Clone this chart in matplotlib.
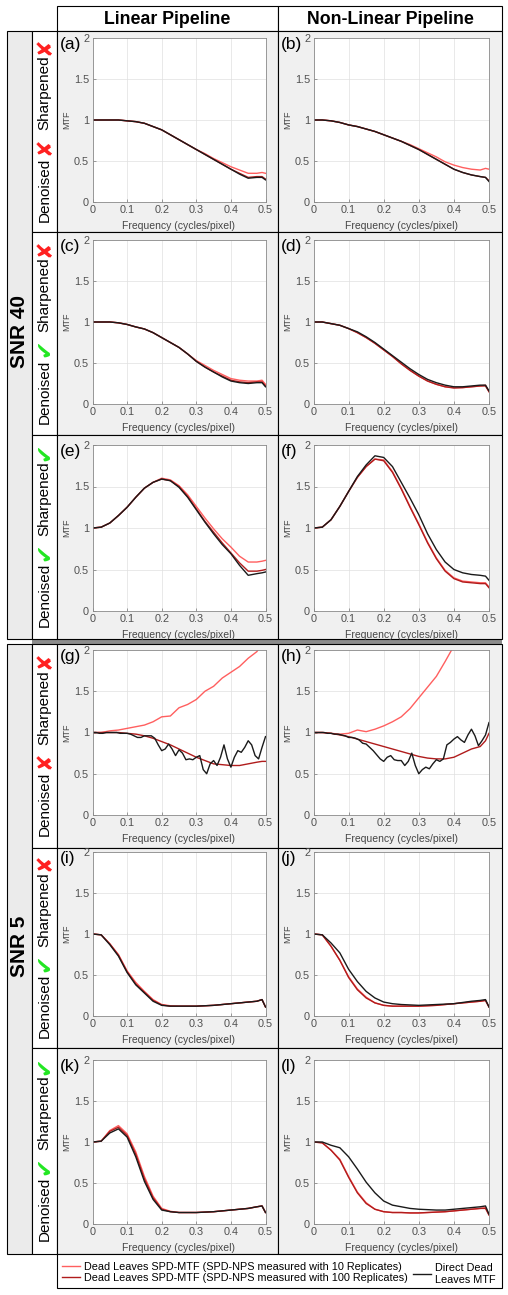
import numpy as np
import matplotlib
matplotlib.use("Agg")
import matplotlib.pyplot as plt
from matplotlib.patches import Rectangle

# frequency samples (cycles/pixel)
FREQ = [0.0, 0.025, 0.05, 0.075, 0.1, 0.125, 0.15, 0.175, 0.2, 0.225, 0.25,
        0.275, 0.3, 0.325, 0.35, 0.375, 0.4, 0.425, 0.45, 0.475, 0.49, 0.5]
FREQ_FINE = np.linspace(0, 0.5, 51)

# SNR 40
r10_a = [1.00, 1.00, 1.00, 1.00, 0.99, 0.98, 0.96, 0.92, 0.88, 0.82, 0.76, 0.70, 0.64, 0.59, 0.53, 0.48, 0.43, 0.39, 0.35, 0.35, 0.36, 0.35]
r100_a = [1.00, 1.00, 1.00, 1.00, 0.99, 0.98, 0.96, 0.92, 0.88, 0.82, 0.76, 0.70, 0.64, 0.58, 0.52, 0.46, 0.40, 0.35, 0.30, 0.31, 0.31, 0.28]
direct_a = [1.00, 1.00, 1.00, 1.00, 0.99, 0.98, 0.96, 0.92, 0.88, 0.82, 0.76, 0.70, 0.64, 0.58, 0.52, 0.46, 0.40, 0.34, 0.29, 0.30, 0.30, 0.27]

r10_b = [1.00, 1.00, 0.99, 0.97, 0.94, 0.92, 0.89, 0.86, 0.82, 0.78, 0.74, 0.70, 0.65, 0.60, 0.55, 0.49, 0.45, 0.42, 0.40, 0.39, 0.41, 0.40]
r100_b = [1.00, 1.00, 0.99, 0.97, 0.94, 0.92, 0.89, 0.86, 0.82, 0.78, 0.74, 0.69, 0.64, 0.58, 0.52, 0.46, 0.40, 0.36, 0.33, 0.31, 0.30, 0.26]
direct_b = [1.00, 1.00, 0.99, 0.97, 0.94, 0.92, 0.89, 0.86, 0.82, 0.78, 0.74, 0.69, 0.64, 0.58, 0.52, 0.46, 0.40, 0.36, 0.33, 0.31, 0.30, 0.25]

r10_c = [1.00, 1.00, 1.00, 0.99, 0.97, 0.94, 0.915, 0.87, 0.81, 0.75, 0.69, 0.61, 0.53, 0.47, 0.41, 0.36, 0.31, 0.29, 0.28, 0.28, 0.29, 0.24]
r100_c = [1.00, 1.00, 1.00, 0.99, 0.97, 0.94, 0.915, 0.87, 0.81, 0.75, 0.69, 0.61, 0.52, 0.45, 0.39, 0.34, 0.29, 0.27, 0.26, 0.27, 0.27, 0.22]
direct_c = [1.00, 1.00, 1.00, 0.99, 0.97, 0.94, 0.915, 0.87, 0.81, 0.75, 0.69, 0.61, 0.52, 0.45, 0.39, 0.33, 0.28, 0.26, 0.25, 0.26, 0.26, 0.21]

r10_d = [1.00, 1.00, 0.98, 0.96, 0.92, 0.87, 0.81, 0.74, 0.66, 0.58, 0.49, 0.41, 0.34, 0.28, 0.24, 0.21, 0.20, 0.20, 0.21, 0.22, 0.23, 0.15]
r100_d = [1.00, 1.00, 0.98, 0.96, 0.92, 0.87, 0.81, 0.74, 0.66, 0.58, 0.49, 0.41, 0.34, 0.28, 0.24, 0.21, 0.195, 0.20, 0.21, 0.22, 0.22, 0.15]
direct_d = [1.00, 1.00, 0.98, 0.96, 0.92, 0.88, 0.82, 0.75, 0.67, 0.59, 0.51, 0.43, 0.36, 0.30, 0.26, 0.23, 0.21, 0.21, 0.22, 0.23, 0.23, 0.16]

r10_e = [1.00, 1.01, 1.06, 1.15, 1.25, 1.37, 1.48, 1.55, 1.60, 1.58, 1.51, 1.40, 1.26, 1.12, 0.99, 0.87, 0.77, 0.66, 0.59, 0.59, 0.60, 0.61]
r100_e = [1.00, 1.01, 1.06, 1.15, 1.25, 1.37, 1.48, 1.55, 1.59, 1.57, 1.50, 1.38, 1.23, 1.08, 0.95, 0.82, 0.70, 0.58, 0.48, 0.48, 0.49, 0.50]
direct_e = [1.00, 1.01, 1.06, 1.15, 1.25, 1.37, 1.48, 1.55, 1.59, 1.57, 1.49, 1.37, 1.22, 1.07, 0.93, 0.80, 0.69, 0.55, 0.43, 0.45, 0.46, 0.47]

r10_f = [1.00, 1.01, 1.10, 1.26, 1.44, 1.61, 1.74, 1.83, 1.82, 1.68, 1.48, 1.26, 1.05, 0.83, 0.64, 0.49, 0.40, 0.36, 0.35, 0.34, 0.34, 0.29]
r100_f = [1.00, 1.01, 1.10, 1.26, 1.44, 1.61, 1.74, 1.83, 1.81, 1.67, 1.47, 1.25, 1.04, 0.82, 0.63, 0.48, 0.39, 0.35, 0.34, 0.33, 0.33, 0.28]
direct_f = [1.00, 1.01, 1.10, 1.26, 1.44, 1.62, 1.76, 1.87, 1.85, 1.74, 1.55, 1.36, 1.16, 0.93, 0.74, 0.59, 0.50, 0.46, 0.44, 0.43, 0.42, 0.37]

# SNR 5
r10_g = [1.00, 1.00, 1.02, 1.03, 1.05, 1.07, 1.09, 1.13, 1.19, 1.20, 1.30, 1.34, 1.40, 1.50, 1.56, 1.66, 1.73, 1.80, 1.90, 1.98, 2.08, 2.15]
r100_g = [1.00, 1.00, 1.00, 1.00, 0.99, 0.98, 0.96, 0.93, 0.89, 0.85, 0.80, 0.75, 0.70, 0.66, 0.62, 0.61, 0.60, 0.60, 0.62, 0.64, 0.65, 0.65]
direct_g = [1.00, 1.00, 0.99, 0.99, 1.00, 1.00, 1.00, 1.00, 0.99, 0.99, 0.99, 0.98, 0.96, 0.94, 0.94, 0.96, 0.96, 0.96, 0.93, 0.85,
            0.78, 0.80, 0.86, 0.80, 0.72, 0.79, 0.75, 0.67, 0.68, 0.67, 0.70, 0.72, 0.55, 0.50, 0.62, 0.66, 0.60, 0.70, 0.85, 0.68,
            0.58, 0.70, 0.78, 0.76, 0.82, 0.90, 0.85, 0.72, 0.68, 0.82, 0.95]

r10_h = [1.00, 1.00, 0.99, 0.98, 0.99, 1.03, 1.01, 1.04, 1.08, 1.13, 1.19, 1.29, 1.42, 1.55, 1.68, 1.86, 2.05, 2.25, 2.45, 2.65, 2.78, 2.85]
r100_h = [1.00, 1.00, 0.99, 0.97, 0.95, 0.92, 0.89, 0.86, 0.83, 0.80, 0.77, 0.74, 0.71, 0.69, 0.68, 0.68, 0.70, 0.75, 0.80, 0.83, 0.90, 0.99]
direct_h = [1.00, 1.00, 1.00, 1.00, 0.99, 0.99, 0.98, 0.98, 0.97, 0.96, 0.94, 0.94, 0.93, 0.91, 0.87, 0.86, 0.82, 0.78, 0.73, 0.68,
            0.65, 0.70, 0.72, 0.67, 0.66, 0.66, 0.60, 0.65, 0.75, 0.60, 0.50, 0.55, 0.58, 0.56, 0.62, 0.67, 0.65, 0.68, 0.85, 0.88,
            0.92, 0.95, 0.91, 0.88, 0.97, 1.04, 0.96, 0.84, 0.90, 0.97, 1.12]

r10_i = [1.00, 0.99, 0.88, 0.75, 0.55, 0.41, 0.30, 0.20, 0.14, 0.125, 0.12, 0.12, 0.12, 0.125, 0.13, 0.14, 0.15, 0.16, 0.17, 0.18, 0.20, 0.11]
r100_i = [1.00, 0.99, 0.88, 0.74, 0.54, 0.39, 0.29, 0.19, 0.135, 0.12, 0.12, 0.12, 0.12, 0.125, 0.13, 0.14, 0.15, 0.16, 0.17, 0.18, 0.20, 0.11]
direct_i = [1.00, 0.99, 0.87, 0.73, 0.53, 0.38, 0.28, 0.18, 0.13, 0.12, 0.12, 0.12, 0.12, 0.125, 0.13, 0.14, 0.15, 0.16, 0.17, 0.18, 0.20, 0.11]

r10_j = [1.00, 0.99, 0.85, 0.68, 0.48, 0.33, 0.23, 0.16, 0.13, 0.12, 0.12, 0.12, 0.12, 0.125, 0.13, 0.14, 0.15, 0.16, 0.17, 0.18, 0.19, 0.11]
r100_j = [1.00, 0.99, 0.85, 0.68, 0.47, 0.32, 0.22, 0.16, 0.13, 0.12, 0.12, 0.12, 0.12, 0.125, 0.13, 0.14, 0.15, 0.16, 0.17, 0.18, 0.19, 0.11]
direct_j = [1.00, 0.99, 0.89, 0.77, 0.57, 0.42, 0.30, 0.22, 0.17, 0.15, 0.14, 0.135, 0.13, 0.135, 0.14, 0.145, 0.15, 0.165, 0.18, 0.19, 0.20, 0.11]

r10_k = [1.00, 1.01, 1.14, 1.20, 1.10, 0.88, 0.58, 0.34, 0.19, 0.155, 0.14, 0.14, 0.14, 0.145, 0.15, 0.16, 0.17, 0.18, 0.19, 0.21, 0.22, 0.14]
r100_k = [1.00, 1.01, 1.13, 1.18, 1.08, 0.85, 0.55, 0.32, 0.18, 0.15, 0.14, 0.14, 0.14, 0.145, 0.15, 0.16, 0.17, 0.18, 0.19, 0.21, 0.22, 0.14]
direct_k = [1.00, 1.01, 1.11, 1.16, 1.06, 0.82, 0.52, 0.30, 0.17, 0.15, 0.14, 0.14, 0.14, 0.145, 0.15, 0.16, 0.17, 0.18, 0.19, 0.21, 0.22, 0.14]

r10_l = [1.00, 0.99, 0.90, 0.79, 0.58, 0.39, 0.26, 0.18, 0.15, 0.14, 0.14, 0.135, 0.135, 0.14, 0.145, 0.15, 0.16, 0.17, 0.18, 0.19, 0.20, 0.11]
r100_l = [1.00, 0.99, 0.90, 0.78, 0.57, 0.38, 0.25, 0.18, 0.15, 0.14, 0.14, 0.135, 0.135, 0.14, 0.145, 0.15, 0.16, 0.17, 0.18, 0.19, 0.19, 0.11]
direct_l = [1.00, 1.00, 0.96, 0.93, 0.82, 0.67, 0.51, 0.38, 0.28, 0.23, 0.21, 0.19, 0.18, 0.175, 0.17, 0.17, 0.18, 0.19, 0.20, 0.21, 0.22, 0.12]

PANELS = [
    ("(a)", r10_a, r100_a, direct_a, FREQ), ("(b)", r10_b, r100_b, direct_b, FREQ),
    ("(c)", r10_c, r100_c, direct_c, FREQ), ("(d)", r10_d, r100_d, direct_d, FREQ),
    ("(e)", r10_e, r100_e, direct_e, FREQ), ("(f)", r10_f, r100_f, direct_f, FREQ),
    ("(g)", r10_g, r100_g, direct_g, FREQ_FINE), ("(h)", r10_h, r100_h, direct_h, FREQ_FINE),
    ("(i)", r10_i, r100_i, direct_i, FREQ), ("(j)", r10_j, r100_j, direct_j, FREQ),
    ("(k)", r10_k, r100_k, direct_k, FREQ), ("(l)", r10_l, r100_l, direct_l, FREQ),
]

COLUMN_TITLES = ["Linear Pipeline", "Non-Linear Pipeline"]
SNR_LABELS = ["SNR 40", "SNR 5"]
# (denoised, sharpened) per row
ROW_FLAGS = [(False, False), (True, False), (True, True)]
LEGEND_LABELS = ["Dead Leaves SPD-MTF (SPD-NPS measured with 10 Replicates)",
                 "Dead Leaves SPD-MTF (SPD-NPS measured with 100 Replicates)",
                 "Direct Dead\nLeaves MTF"]

C10, C100, CDIR = "#ff5f5f", "#b01c1c", "#1a1a1a"
FONT = ["Liberation Sans", "DejaVu Sans"]
plt.rcParams["font.family"] = FONT

W, H = 508, 1295
fig = plt.figure(figsize=(W / 100, H / 100), dpi=100)
fig.patch.set_facecolor("white")

bg = fig.add_axes([0, 0, 1, 1])
bg.set_xlim(0, W)
bg.set_ylim(H, 0)
bg.axis("off")


def box(x0, y0, x1, y1, fc, ec="black", lw=0.8):
    bg.add_patch(Rectangle((x0, y0), x1 - x0, y1 - y0, facecolor=fc, edgecolor=ec, linewidth=lw))


def fx(x):
    return x / W


def fy(y):
    return 1 - y / H


COL_X = [(57, 278), (278, 502)]
BLOCK_ROWS = [[(31, 232), (232, 435), (435, 639)], [(644, 848), (848, 1048), (1048, 1254)]]
AX_ROWS = [(38, 202), (240, 404), (445, 611), (650, 815), (852, 1016), (1060, 1224)]
AX_COLS = [(92.5, 265.5), (313.5, 489)]

# header
for (x0, x1), title in zip(COL_X, COLUMN_TITLES):
    box(x0, 6, x1, 31, "white")
    fig.text(fx((x0 + x1) / 2), fy(19), title, fontsize=12.8, fontweight="bold",
             ha="center", va="center")

# block frames and row labels
box(32, 639, 502, 644, "#8c8c8c", ec="none")
for snr, rows in zip(SNR_LABELS, BLOCK_ROWS):
    top, bot = rows[0][0], rows[-1][1]
    box(7, top, 32, bot, "#ebebeb")
    fig.text(fx(19.5), fy((top + bot) / 2 - 3), snr, fontsize=15, fontweight="bold",
             rotation=90, ha="center", va="center")
    for (t, b), (den, sharp) in zip(rows, ROW_FLAGS):
        box(32, t, 57, b, "white")
        for x0, x1 in COL_X:
            box(x0, t, x1, b, "#f0f0f0")
        c = (t + b) / 2
        fig.text(fx(44.5), fy(c + 58), "Denoised", fontsize=11, rotation=90, ha="center", va="center")
        fig.text(fx(44.5), fy(c - 38.5), "Sharpened", fontsize=11, rotation=90, ha="center", va="center")
        for flag, off in ((den, 14.5), (sharp, -85.5)):
            if flag:
                mark, col, size = "\u2714", "#22e622", 16
            else:
                mark, col, size = "\u2718", "#ff1f1f", 15
            fig.text(fx(44.5), fy(c + off), mark, fontsize=size, rotation=90, color=col,
                     family=["DejaVu Sans"], ha="center", va="center")

# panels
lines = None
for idx, (label, r10, r100, direct, fdir) in enumerate(PANELS):
    row, col = divmod(idx, 2)
    t, b = AX_ROWS[row]
    l, r = AX_COLS[col]
    ax = fig.add_axes([fx(l), fy(b), (r - l) / W, (b - t) / H])
    ax.set_facecolor("white")
    l1, = ax.plot(FREQ, r10, color=C10, lw=1.0)
    l2, = ax.plot(FREQ, r100, color=C100, lw=1.0)
    l3, = ax.plot(fdir, direct, color=CDIR, lw=1.0)
    if lines is None:
        lines = [l1, l2, l3]
    ax.set_xlim(0, 0.5)
    ax.set_ylim(0, 2)
    ax.set_xticks([0, 0.1, 0.2, 0.3, 0.4, 0.5])
    ax.set_xticklabels(["0", "0.1", "0.2", "0.3", "0.4", "0.5"])
    ax.set_yticks([0, 0.5, 1, 1.5, 2])
    ax.set_yticklabels(["0", "0.5", "1", "1.5", "2"])
    ax.grid(True, color="#e0e0e0", lw=0.5)
    ax.set_axisbelow(True)
    ax.tick_params(direction="in", length=2.5, width=0.5, color="#777777",
                   labelcolor="#505050", labelsize=7.8, pad=2.5)
    for sp in ax.spines.values():
        sp.set_color("#8a8a8a")
        sp.set_linewidth(0.6)
    ax.set_xlabel("Frequency (cycles/pixel)", fontsize=7.5, color="#454545", va="center")
    ax.xaxis.set_label_coords(0.5, -24 / (b - t))
    ax.set_ylabel("MTF", fontsize=6.5, color="#454545", va="center")
    ax.yaxis.set_label_coords(-26 / (r - l), 0.5)
    fig.text(fx(COL_X[col][0] + 3), fy(t - 1), label, fontsize=12.5, ha="left", va="top")

# legend
box(57, 1254, 502, 1288, "white")
fig.legend(lines[:2], LEGEND_LABELS[:2], loc="center left",
           bbox_to_anchor=(fx(62), fy(1272.5)), frameon=False, fontsize=7.8,
           handlelength=1.67, handletextpad=0.4, labelspacing=0.1,
           borderpad=0, borderaxespad=0)
fig.legend(lines[2:], LEGEND_LABELS[2:], loc="center left",
           bbox_to_anchor=(fx(413), fy(1274)), frameon=False, fontsize=7.8,
           handlelength=1.67, handletextpad=0.4, borderpad=0, borderaxespad=0)

fig.savefig("out.png", dpi=100)
